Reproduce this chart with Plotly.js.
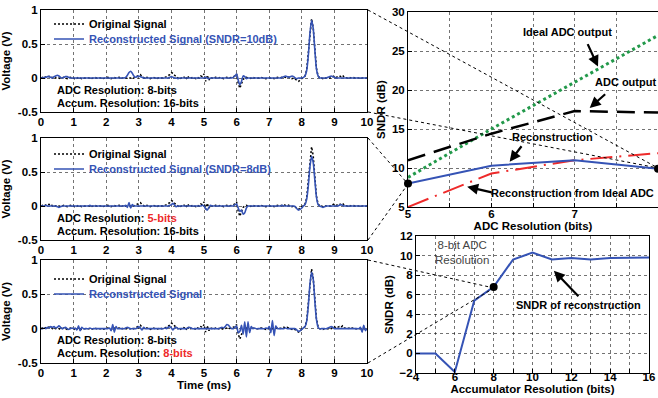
<!DOCTYPE html>
<html><head><meta charset="utf-8">
<script src="https://cdn.plot.ly/plotly-3.0.1.min.js"></script>
<style>html,body{margin:0;padding:0;background:#fff;}#c{width:658px;height:398px;}</style>
</head><body><div id="c"></div>
<script>
// ---- time-domain signals, sampled every 0.05 ms from 0 to 10 ms ----
const tStart = 0, tStep = 0.05;
const originalSignal = [
0,0.01,0,0.01,0.03,0.02,0.03,0,0.01,0,0.01,0,-0.01,0,0.01,0,-0.01,0,0.01,0,
0,-0.02,0,0.01,0,-0.01,0,0,0.01,0,0,-0.01,0,0.01,0,0,0.01,0,-0.01,0,
0,0.01,0,-0.01,0,0.01,0,0,0.01,-0.01,0,0.01,0,0,0.01,0,-0.01,0,0.02,0.03,
0.04,0.05,0.02,0,-0.01,0.01,0,-0.01,0,0.01,0,-0.01,0,0.01,0,0,0.01,0.02,0.03,0.05,
0.08,0.07,0.04,0.02,0,-0.02,0,0.02,0.01,-0.02,0.03,-0.01,0,0.01,0,-0.01,0.01,0,0.03,0.02,
0.06,-0.05,0.04,-0.03,0.01,0,-0.01,0.01,0,0,0.01,0,-0.01,0,0.01,0,0,0.01,0.02,0.03,
0.06,-0.08,-0.15,-0.08,-0.02,0,0.01,0,-0.01,0,0.01,0,0,-0.01,0,0.01,0,0,-0.01,0,
0,0.01,0,-0.01,0,0.01,0,0,0.01,0.02,0.01,0.02,0.01,0,-0.01,0,-0.02,-0.04,-0.05,-0.03,
-0.01,0.01,0.03,0.12,0.35,0.68,0.87,0.74,0.42,0.14,0.03,0,0,-0.01,0,0,0,0.01,0,0.02,
0.03,0.01,0.02,0.03,0.02,0.04,0.01,0,0,0.01,0,0.01,0,0,0,0,0,0,0,0,
0];
const recon10dB = [
0,0,0.01,0.01,0.02,0.02,0.01,0,0.02,0.03,0.04,0.03,0.01,0,0.01,0.02,0.02,0.01,0,0,
0,0,0,0,0,0,0,0,0,0,0,0,0,0,0,0,0,0,0,0,
0,0,0,0,0,0,0,0,0,0,0,0,0.01,0.04,0.08,0.1,0.07,0.03,0.01,0.02,
0.03,0.02,0.01,0,0,0,0,0,0,0,0,0,0,0,0,0,0,0,0,0.01,
0.02,0.01,0,0,-0.01,0,0,0,0,0,0,0,0,0,0,0,0,0,0,0,
0,0.01,0,-0.01,0,0,0,0,0,0,0,0,0,0,0,0,0,0,0.01,0.03,
0.06,-0.03,-0.1,-0.05,0.03,0.02,-0.01,0,0,0,0,0,0,0,0,0,0,0,0,0,
0,0,0,0,0,0,0,0,0.01,0.02,0.03,0.02,0.01,0.02,0.03,0.02,0,-0.01,0,0,
0,0.01,0.03,0.11,0.33,0.66,0.85,0.73,0.41,0.13,0.03,0,0,0,0,0,0.01,0.02,0.03,0.02,
0.01,0,0,0,0,0,0,0,0,0,0,0,0,0,0,0,0,0,0,0,
0];
const recon8dB = [
0,0,0,0.01,0,0,0,0,0,0,-0.01,-0.02,-0.01,0,0,0,0,0,0,0,
0,0,0,0,0,0,0,0,0,0,0.01,0,0,0,0,0,0,0,0,0,
0,0,0,0,0,0,0,0,0,0,0,0,0.01,-0.02,0.05,-0.03,0.02,0,0,0,
0,0,0,0,0,0,0,0,0,0,0,0,0,0,0,0,0,0,0,0.01,
0.02,0.04,0.01,-0.01,0,0,0,0,0,0,0,0,0,0,0,0,0,0,0,0.01,
0,-0.04,-0.06,-0.02,0.01,0,0,0,0,0,0,0,0,0,0,0,0,0,0,0.02,
0.03,-0.03,-0.08,-0.06,-0.12,-0.1,-0.03,0,0,0,0,0,0,0,0,0,0,0,0,0,
0,0,0,0,0,0,0,0,0.01,0,0,0,0,0,0,0,-0.01,-0.04,-0.06,-0.05,
-0.03,0,0.02,0.1,0.3,0.58,0.73,0.64,0.38,0.13,0.02,0,-0.01,-0.02,-0.01,0,0,0,0,0,
0,0,0,0.01,0.02,0.01,0,0,0,0,0,0,0,0,0,0,0,0,0,0,
0];
const reconAcc8 = [
0,0,0.01,0,0.02,0.01,0.03,0.02,0.03,0.01,0.02,0.04,0.02,0,0.01,0.02,0,-0.01,0,0.01,
0,0.01,-0.02,0.04,-0.03,0.02,0,0,0,0,0.01,0,0,0,0,0,0,0,0,0,
0,0,0.01,-0.03,0.06,-0.05,0.03,0,0,0,0,0,0.01,0.02,0.01,0,0,0,0,0.01,
0.03,0.01,-0.02,0.02,0,0,0,0,0,0,0,0,0,0,0,0,0.01,0,0.02,0.03,
0.01,-0.02,0.01,0.02,0,0,0,0,0,0,0.01,0.02,0.01,0,0,0,0,0,0,0,
0,0,0,0,0,0,0,0,0,0,0.01,0.02,0.01,0.03,0.06,0.05,0.02,0,0,0.02,
0.04,-0.06,-0.04,0.05,-0.08,0.1,-0.12,0.1,-0.06,0.03,0,0.01,0,0,0,0,0,0,0.01,0,
0.03,-0.06,0.12,-0.1,0.04,0,0,0,0,0,0.01,0,0,0,0,0,0,-0.02,-0.04,-0.03,
-0.01,0.01,0.03,0.11,0.33,0.65,0.82,0.72,0.4,0.13,0.02,0,0,0,0,0,0.01,0.02,0.03,0.02,
0,0,0,0,0,0,0,0,0,0,0,0,0,0,0,0,0.02,-0.05,0.05,-0.03,
0];

// ---- SNDR vs ADC resolution ----
const adcBits = [5, 6, 7, 8];
const idealAdcSNDR = [8.8, 15, 21, 27];
const adcSNDR = [11, 14.4, 17.3, 17.1];
const reconSNDR = [8, 10.3, 11, 9.9];
const reconIdealSNDR = [5, 9.3, 11, 11.9];
const adcMarkBits = [5, 8];
const adcMarkSNDR = [8, 9.9];

// ---- SNDR vs accumulator resolution ----
const accBits = [4,5,6,7,8,9,10,11,12,13,14,15,16];
const accSNDR = [0,0,-1.9,5.4,6.8,9.6,10.3,9.6,9.75,9.6,9.75,9.8,9.8];
const accMarkBits = [8];
const accMarkSNDR = [6.8];

const W = 658, H = 398;
const FONT = 'Liberation Sans, Arial, sans-serif';
const BLUE = '#3553b5', GREEN = '#22994a', RED = '#ee2a2a';
const px = v => v / W, py = v => 1 - v / H;

function axis(extra){
  return Object.assign({showline:true, mirror:true, linecolor:'black', linewidth:1,
    ticks:'inside', ticklen:4, tickcolor:'black', showgrid:true,
    gridcolor:'rgba(0,0,0,0.55)', griddash:'dot', gridwidth:1, zeroline:false,
    fixedrange:true, automargin:false, ticklabeloverflow:'allow',
    tickfont:{size:11.5, family:FONT, weight:'bold', color:'black'}}, extra);
}
const titleFont = {size:11.5, family:FONT, weight:'bold', color:'black'};

const leftX = [px(41), px(367)];
const panels = [[10,112],[138,240],[260,363]];
const legendRows = [[24,39],[154,169],[279,294]];
const recons = [recon10dB, recon8dB, reconAcc8];
const reconNames = ['Reconstructed Signal (SNDR=10dB)','Reconstructed Signal (SNDR=8dB)','Reconstructed Signal'];

const data = [];
const layout = {width:W, height:H, margin:{l:0,r:0,t:0,b:0}, paper_bgcolor:'white', plot_bgcolor:'white',
  font:{family:FONT, size:11, color:'black', weight:'bold'}, annotations:[], shapes:[]};

const legFont = {size:11, family:FONT, weight:'bold', color:'black'};
panels.forEach((p,i)=>{
  const n = i+1, xs = 'x'+n, ys = 'y'+n;
  const lgA = 'legend' + (2*i === 0 ? '' : 2*i+1), lgB = 'legend' + (2*i+2);
  data.push({type:'scatter', mode:'lines', x0:tStart, dx:tStep, y:originalSignal, xaxis:xs, yaxis:ys,
    name:'Original Signal', legend:lgA, line:{color:'black', width:1.5, dash:'2px,2px'}});
  data.push({type:'scatter', mode:'lines', x0:tStart, dx:tStep, y:recons[i], xaxis:xs, yaxis:ys,
    name:'<span style="color:'+BLUE+'">'+reconNames[i]+'</span>', legend:lgB,
    line:{color:BLUE, width:1.6, shape:'spline', smoothing:0.6}});
  layout['xaxis'+(n===1?'':n)] = axis({domain:leftX, range:[0,10], tickvals:[0,1,2,3,4,5,6,7,8,9,10],
    anchor:ys, ticklabelstandoff:-1, title: n===3 ? {text:'Time (ms)', font:titleFont, standoff:3} : undefined});
  layout['yaxis'+(n===1?'':n)] = axis({domain:[py(p[1]), py(p[0])], range:[-0.5,1], tickvals:[-0.5,0,0.5,1],
    ticktext:['-0.5','0','0.5','1'], anchor:xs, title:{text:'Voltage (V)', font:titleFont, standoff:4}});
  layout[lgA] = {x:px(49), y:py(legendRows[i][0]), xanchor:'left', yanchor:'middle', bgcolor:'rgba(0,0,0,0)',
    borderwidth:0, font:legFont, itemwidth:30};
  layout[lgB] = {x:px(49), y:py(legendRows[i][1]), xanchor:'left', yanchor:'middle', bgcolor:'rgba(0,0,0,0)',
    borderwidth:0, font:legFont, itemwidth:30};
});

// text labels in left panels
const txtL = [
  ['ADC Resolution: 8-bits','Accum. Resolution: 16-bits', 90, 103],
  ['ADC Resolution: <span style="color:'+RED+'">5-bits</span>','Accum. Resolution: 16-bits', 218, 231],
  ['ADC Resolution: 8-bits','Accum. Resolution: <span style="color:'+RED+'">8-bits</span>', 340, 353]
];
txtL.forEach(t=>{
  layout.annotations.push({xref:'paper', yref:'paper', x:px(55), y:py(t[2]), xanchor:'left', yanchor:'middle', text:t[0], showarrow:false, font:{size:11}});
  layout.annotations.push({xref:'paper', yref:'paper', x:px(55), y:py(t[3]), xanchor:'left', yanchor:'middle', text:t[1], showarrow:false, font:{size:11}});
});

// top-right: SNDR vs ADC resolution
data.push({type:'scatter', mode:'lines', x:adcBits, y:idealAdcSNDR, xaxis:'x4', yaxis:'y4', showlegend:false,
  line:{color:GREEN, width:3, dash:'dot'}, cliponaxis:false});
data.push({type:'scatter', mode:'lines', x:adcBits, y:adcSNDR, xaxis:'x4', yaxis:'y4', showlegend:false,
  line:{color:'black', width:2.5, dash:'18px,9px'}});
data.push({type:'scatter', mode:'lines', x:adcBits, y:reconIdealSNDR, xaxis:'x4', yaxis:'y4', showlegend:false,
  line:{color:RED, width:2, dash:'22px,7px,2px,7px'}});
data.push({type:'scatter', mode:'lines', x:adcBits, y:reconSNDR, xaxis:'x4', yaxis:'y4', showlegend:false,
  line:{color:BLUE, width:2}});
data.push({type:'scatter', mode:'markers', x:adcMarkBits, y:adcMarkSNDR, xaxis:'x4', yaxis:'y4', showlegend:false,
  marker:{color:'black', size:8}, cliponaxis:false});
layout.xaxis4 = axis({domain:[px(408), 1], range:[5,8], tickvals:[5,5.5,6,6.5,7,7.5,8], ticktext:['5','','6','','7','',''],
  anchor:'y4', ticklabelstandoff:-4, title:{text:'ADC Resolution (bits)', font:titleFont, standoff:0}});
layout.yaxis4 = axis({domain:[py(207), py(12)], range:[5,30], tickvals:[5,10,15,20,25,30], anchor:'x4',
  title:{text:'SNDR (dB)', font:titleFont, standoff:3}});

// bottom-right: SNDR vs accumulator resolution
data.push({type:'scatter', mode:'lines', x:accBits, y:accSNDR, xaxis:'x5', yaxis:'y5', showlegend:false,
  line:{color:BLUE, width:2}});
data.push({type:'scatter', mode:'markers', x:accMarkBits, y:accMarkSNDR, xaxis:'x5', yaxis:'y5', showlegend:false,
  marker:{color:'black', size:8}});
layout.xaxis5 = axis({domain:[px(416), px(649)], range:[4,16], tickvals:[4,5,6,7,8,9,10,11,12,13,14,15,16],
  ticktext:['4','','6','','8','','10','','12','','14','','16'], anchor:'y5', ticklabelstandoff:-7,
  title:{text:'Accumulator Resolution (bits)', font:titleFont, standoff:0}});
layout.yaxis5 = axis({domain:[py(373), py(236)], range:[-2,12], tickvals:[-2,0,2,4,6,8,10,12], anchor:'x5',
  title:{text:'SNDR (dB)', font:titleFont, standoff:3}});

// annotations right side
const A = (x,y,text,extra)=>layout.annotations.push(Object.assign({xref:'paper', yref:'paper', x:px(x), y:py(y),
  xanchor:'center', yanchor:'middle', text:text, showarrow:false, font:{size:11}}, extra||{}));
A(567,32,'Ideal ADC output');
A(625,82,'ADC output');
A(552,137,'Reconstruction');
A(572,193,'Reconstruction from Ideal ADC');
A(462,252,'8-bit ADC<br>Resolution',{font:{size:11.5, color:'#444', weight:'normal'}});
A(578,305,'SNDR of reconstruction');
const arrow = (xr,yr,x,y,ax,ay)=>layout.annotations.push({xref:xr, yref:yr, x:x, y:y, ax:ax, ay:ay, text:'', showarrow:true,
  arrowhead:2, arrowsize:1, arrowwidth:2.2, arrowcolor:'black'});
arrow('x4','y4',7.28,23.0,-11,-24);
arrow('x4','y4',7.18,17.7,17,-15);
arrow('x4','y4',6.22,10.8,13,-17);
arrow('x4','y4',5.71,7.6,26,6);
arrow('x5','y5',11.1,8.45,26,27);

// dotted zoom connector lines
const conn = [[368,10,658,168],[368,112,658,168],[368,138,408,184],[368,240,408,184],[368,260,494,288],[368,363,494,288]];
conn.forEach(c=>layout.shapes.push({type:'line', xref:'paper', yref:'paper', x0:px(c[0]), y0:py(c[1]), x1:px(c[2]), y1:py(c[3]),
  line:{color:'black', width:1, dash:'dot'}, layer:'above'}));

Plotly.newPlot('c', data, layout, {staticPlot:true, displayModeBar:false});
</script></body></html>
